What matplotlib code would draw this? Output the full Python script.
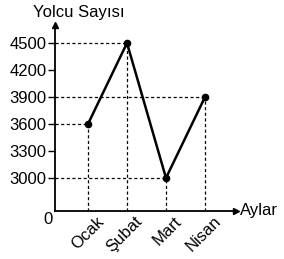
import matplotlib
matplotlib.use("Agg")
import matplotlib.pyplot as plt
import matplotlib.transforms as mtransforms
import numpy as np

months = ["Ocak", "Şubat", "Mart", "Nisan"]
passengers = [3600, 4500, 3000, 3900]
yticks = [3000, 3300, 3600, 3900, 4200, 4500]

plt.rcParams['font.family'] = ['Liberation Sans', 'DejaVu Sans']
FS = 12

def fwd(v):
    v = np.asarray(v, dtype=float)
    return np.where(v >= 3000, 33 + (v - 3000) * 27 / 300, v * 33 / 3000)

def inv(p):
    p = np.asarray(p, dtype=float)
    return np.where(p >= 33, 3000 + (p - 33) * 300 / 27, p * 3000 / 33)

W, H = 284, 259
fig = plt.figure(figsize=(W / 100, H / 100), dpi=100)
x0, x1, y0, y1 = 55, 236, 211, 25
ax = fig.add_axes([x0 / W, (H - y0) / H, (x1 - x0) / W, (y0 - y1) / H])
ax.set_yscale('function', functions=(fwd, inv))

xs = np.arange(len(months))
ax.set_xlim(-33 / 39, (x1 - 88) / 39)
ax.set_ylim(0, inv(y0 - y1).item())

for x, v in zip(xs, passengers):
    ax.plot([ax.get_xlim()[0], x], [v, v], ls=(0, (2.5, 2)), color='black', lw=0.9, clip_on=False)
    ax.plot([x, x], [0, v], ls=(0, (2.5, 2)), color='black', lw=0.9, clip_on=False)

ax.plot(xs, passengers, color='black', lw=1.8, marker='o', ms=4.5, clip_on=False, zorder=5)

for s in ['top', 'right']:
    ax.spines[s].set_visible(False)
for s in ['left', 'bottom']:
    ax.spines[s].set_linewidth(1.3)

ax.plot(1, 0, '>', color='black', ms=5, transform=ax.transAxes, clip_on=False)
ax.plot(0, 1, '^', color='black', ms=5, transform=ax.transAxes, clip_on=False)

ax.set_yticks(yticks)
ax.set_yticklabels([str(t) for t in yticks], fontsize=FS)
ax.tick_params(axis='y', length=5, width=1, pad=1)
ax.set_xticks(xs)
ax.set_xticklabels(months, rotation=45, ha='right', va='top', rotation_mode='anchor', fontsize=FS)
ax.tick_params(axis='x', length=0, pad=2)
ax.yaxis.set_minor_locator(matplotlib.ticker.NullLocator())
offset = mtransforms.ScaledTranslation(8 / 100, 0, fig.dpi_scale_trans)
for lbl in ax.get_xticklabels():
    lbl.set_transform(lbl.get_transform() + offset)

fig.text(48 / W, 1 - 219 / H, "0", fontsize=FS, ha='center', va='center')
fig.text(79 / W, 1 - 12 / H, "Yolcu Sayısı", fontsize=FS, ha='center', va='center')
fig.text(240 / W, 1 - 211 / H, "Aylar", fontsize=FS, ha='left', va='center')

fig.savefig("out.png", dpi=100)
